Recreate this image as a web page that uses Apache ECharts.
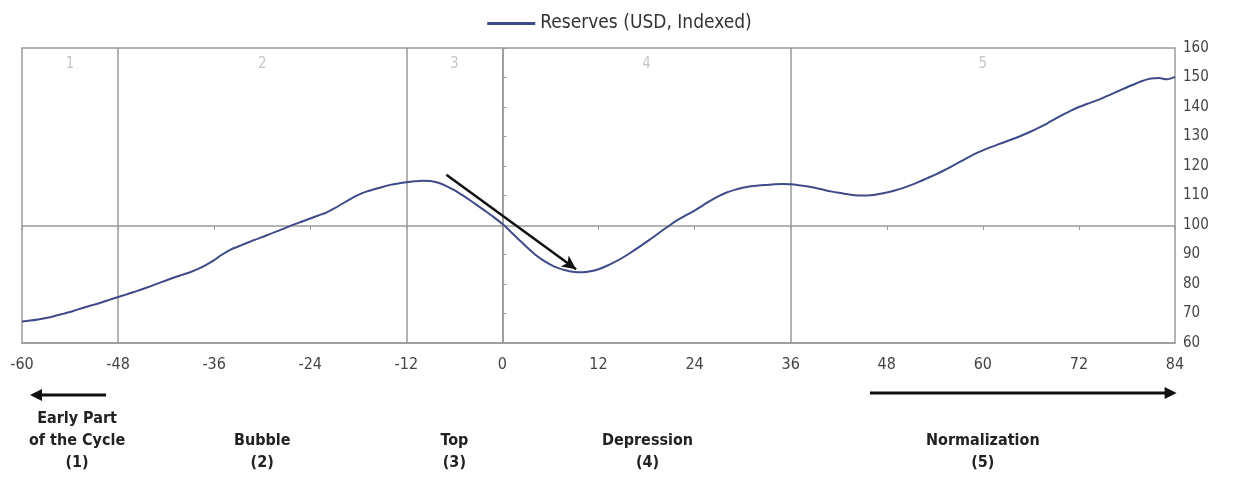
<!DOCTYPE html>
<html><head><meta charset="utf-8">
<script src="https://cdn.jsdelivr.net/npm/echarts@6/dist/echarts.min.js"></script>
<style>html,body{margin:0;padding:0;background:#fff}#c{width:1239px;height:478px}</style>
</head><body><div id="c"></div>
<script>
var months = [];
for (var m = -60; m <= 84; m++) months.push(m);
var reserves = [
67.3,67.6,68.0,68.5,69.1,69.8,70.5,71.4,72.2,73.0,73.8,74.7,
75.6,76.4,77.3,78.2,79.2,80.2,81.2,82.2,83.1,84.0,85.1,86.5,
88.1,90.0,91.6,92.7,93.8,94.9,95.9,97.0,98.0,99.1,100.2,101.2,
102.2,103.2,104.2,105.6,107.2,108.8,110.2,111.3,112.1,112.9,113.6,114.1,
114.5,114.8,115.0,114.9,114.3,113.2,111.8,110.1,108.3,106.4,104.5,102.5,
100.3,97.8,95.2,92.6,90.2,88.2,86.6,85.4,84.6,84.1,84.0,84.3,
85.0,86.1,87.4,88.9,90.6,92.4,94.3,96.2,98.2,100.1,101.9,103.4,
104.9,106.6,108.3,109.8,111.0,111.9,112.6,113.1,113.4,113.6,113.8,113.9,
113.8,113.5,113.1,112.6,112.0,111.4,110.9,110.5,110.1,110.0,110.1,110.5,
111.0,111.7,112.5,113.5,114.6,115.8,117.0,118.3,119.7,121.2,122.7,124.1,
125.3,126.4,127.4,128.4,129.4,130.5,131.7,133.0,134.4,135.9,137.4,138.8,
140.0,141.0,142.0,143.1,144.3,145.5,146.7,147.8,148.9,149.7,149.8,149.4,
150.2
];
var phaseBounds = [-48, -12, 0, 36];
var phaseNums = ['1','2','3','4','5'];
var phaseMid = [-54, -30, -6, 18, 60];
var phaseNames = ['Early Part\nof the Cycle\n(1)', 'Bubble\n(2)', 'Top\n(3)', 'Depression\n(4)', 'Normalization\n(5)'];
var trendArrow = [[-7, 117], [9.2, 85]];
var leftArrowX = [-49.5, -59];
var rightArrowX = [45.9, 84.2];

var FONT = "'Liberation Sans Narrow','DejaVu Sans Condensed','Roboto',sans-serif";
var chart = echarts.init(document.getElementById('c'));
var lineData = months.map(function (m, i) { return [m, reserves[i]]; });

chart.setOption({
  animation: false,
  textStyle: { fontFamily: FONT },
  legend: {
    top: 9, left: 'center',
    itemWidth: 48, itemHeight: 3, itemGap: 6,
    icon: 'rect',
    textStyle: { fontSize: 19, color: '#333', fontFamily: FONT },
    data: ['Reserves (USD, Indexed)']
  },
  grid: { left: 22, right: 64, top: 48, bottom: 135, show: true, borderColor: '#9a9a9a', borderWidth: 1.5 },
  xAxis: [{
    type: 'value', min: -60, max: 84, interval: 12,
    axisLine: { show: true, lineStyle: { color: '#9a9a9a', width: 1.5 } },
    axisTick: { show: false },
    splitLine: { show: false },
    axisLabel: { fontSize: 16, color: '#444', margin: 14, fontFamily: FONT }
  }, {
    type: 'value', min: -60, max: 84, interval: 12, position: 'bottom', offset: -117,
    axisLine: { show: true, lineStyle: { color: '#9a9a9a', width: 1.5 } },
    axisTick: { show: true, inside: false, length: 4, lineStyle: { color: '#9a9a9a' } },
    axisLabel: { show: false }, splitLine: { show: false }
  }],
  yAxis: {
    type: 'value', position: 'right', min: 60, max: 160, interval: 10,
    axisLine: { show: true, lineStyle: { color: '#9a9a9a', width: 1.5 } },
    axisTick: { show: true, length: 4, lineStyle: { color: '#9a9a9a' } },
    splitLine: { show: false },
    axisLabel: { fontSize: 15, color: '#444', margin: 8, fontFamily: FONT }
  },
  series: [{
    name: 'Reserves (USD, Indexed)',
    type: 'line', data: lineData, showSymbol: false, smooth: 0.3,
    lineStyle: { color: '#3f4a88', width: 2 }, itemStyle: { color: '#3f4a88' },
    z: 5,
    markLine: {
      silent: true, symbol: ['none', 'none'],
      label: { show: false },
      lineStyle: { color: '#9a9a9a', width: 1.5, type: 'solid' },
      data: phaseBounds.map(function (b) { return { xAxis: b }; })
    }
  }, {
    type: 'line', data: [], z: 6,
    markLine: {
      silent: true, symbol: ['none', 'arrow'], symbolSize: [10, 14],
      label: { show: false },
      lineStyle: { color: '#111', width: 2.5, type: 'solid' },
      data: [[{ coord: trendArrow[0] }, { coord: trendArrow[1] }]]
    }
  }, {
    type: 'scatter', symbolSize: 0, z: 4,
    data: phaseMid.map(function (m, i) { return { value: [m, 154.5], name: phaseNums[i] }; }),
    label: { show: true, position: 'inside', formatter: '{b}', color: '#b8b8b8', fontSize: 15, fontFamily: FONT }
  }]
});

function draw() {
  var g = [];
  var yArrL = 395, yArrR = 393;
  var lx = leftArrowX.map(function (m) { return chart.convertToPixel({ xAxisIndex: 0 }, m); });
  var rx = rightArrowX.map(function (m) { return chart.convertToPixel({ xAxisIndex: 0 }, m); });
  g.push({ type: 'line', shape: { x1: lx[0], y1: yArrL, x2: lx[1] + 8, y2: yArrL }, style: { stroke: '#111', lineWidth: 3 } });
  g.push({ type: 'polygon', shape: { points: [[lx[1], yArrL], [lx[1] + 12, yArrL - 6], [lx[1] + 12, yArrL + 6]] }, style: { fill: '#111' } });
  g.push({ type: 'line', shape: { x1: rx[0], y1: yArrR, x2: rx[1] - 8, y2: yArrR }, style: { stroke: '#111', lineWidth: 3 } });
  g.push({ type: 'polygon', shape: { points: [[rx[1], yArrR], [rx[1] - 12, yArrR - 6], [rx[1] - 12, yArrR + 6]] }, style: { fill: '#111' } });
  phaseMid.forEach(function (m, i) {
    var x = chart.convertToPixel({ xAxisIndex: 0 }, m);
    if (i === 0) x += 7;
    if (i === 3) x += 1;
    g.push({
      type: 'text', x: x, y: 474,
      style: {
        text: phaseNames[i], align: 'center', verticalAlign: 'bottom',
        font: 'bold 16px ' + FONT, fill: '#222', lineHeight: 22
      }
    });
  });
  chart.setOption({ graphic: g });
}
draw();
</script>
</body></html>
